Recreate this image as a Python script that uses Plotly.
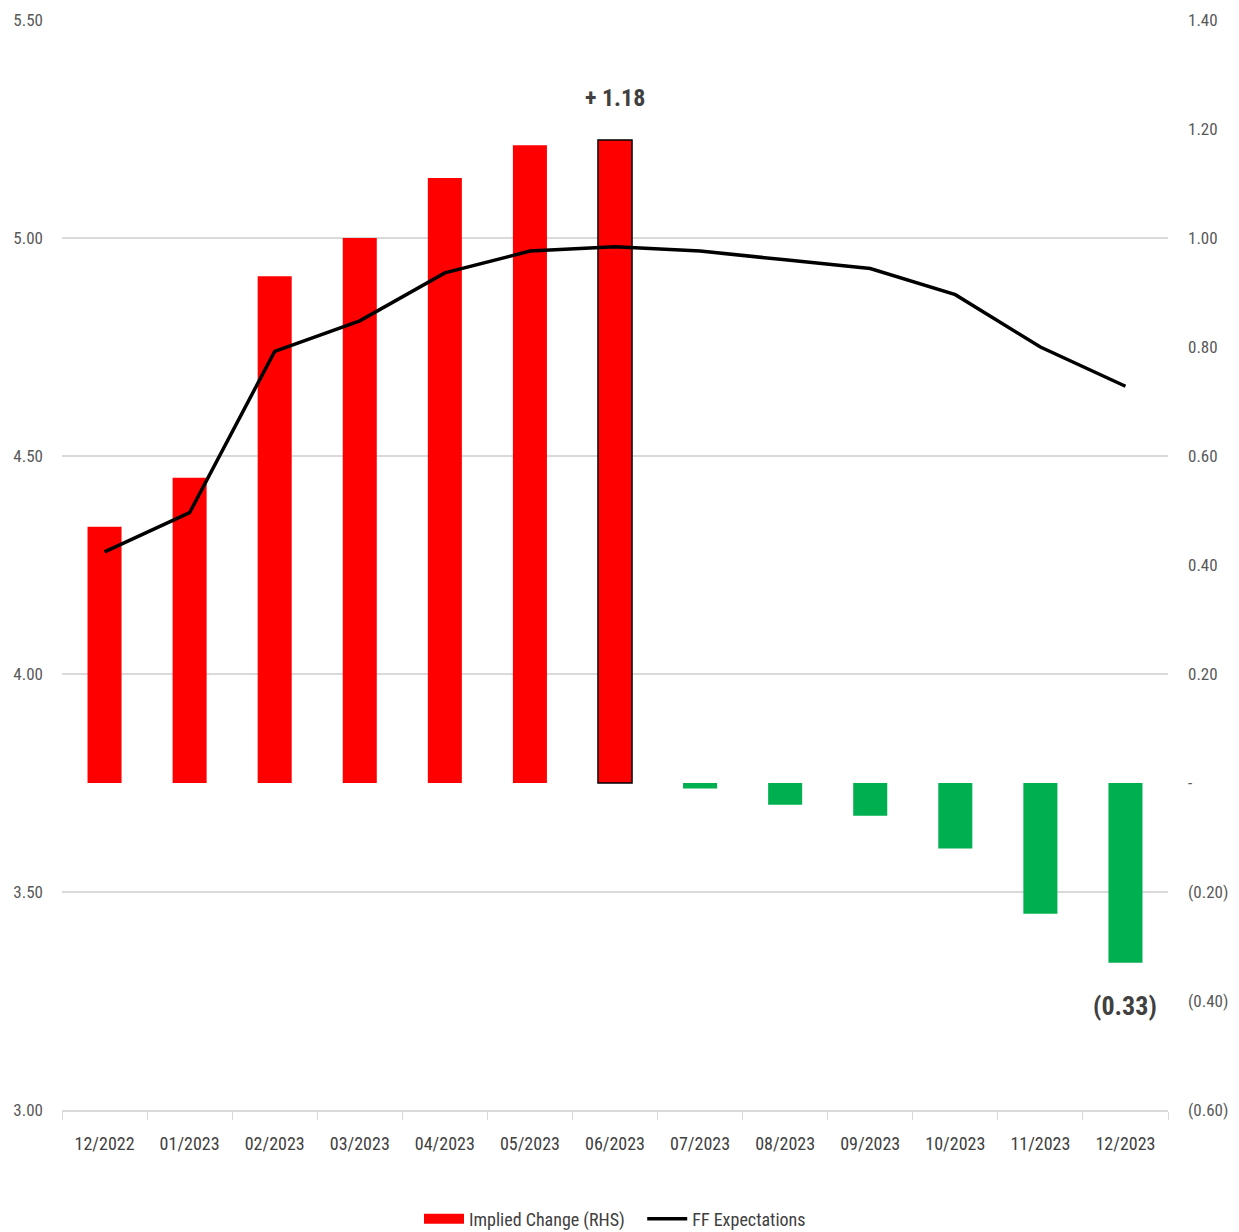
import plotly.graph_objects as go

months = ["12/2022", "01/2023", "02/2023", "03/2023", "04/2023", "05/2023", "06/2023",
          "07/2023", "08/2023", "09/2023", "10/2023", "11/2023", "12/2023"]
implied_change = [0.47, 0.56, 0.93, 1.00, 1.11, 1.17, 1.18, -0.01, -0.04, -0.06, -0.12, -0.24, -0.33]
ff_expectations = [4.28, 4.37, 4.74, 4.81, 4.92, 4.97, 4.98, 4.97, 4.95, 4.93, 4.87, 4.75, 4.66]

left_ticks = [3.00, 3.50, 4.00, 4.50, 5.00, 5.50]
right_ticks = [-0.60, -0.40, -0.20, 0.0, 0.20, 0.40, 0.60, 0.80, 1.00, 1.20, 1.40]
right_labels = ["(0.60)", "(0.40)", "(0.20)", "-", "0.20", "0.40", "0.60", "0.80", "1.00", "1.20", "1.40"]

FONT = "Liberation Sans Narrow, Roboto Condensed, Arial Narrow, Roboto, sans-serif"

bar_colors = ["#FF0000" if v >= 0 else "#00B050" for v in implied_change]
line_colors = ["#000000" if m == "06/2023" else c for m, c in zip(months, bar_colors)]
line_widths = [1.5 if m == "06/2023" else 0 for m in months]

fig = go.Figure()
# bars on y (right side), line on y2 (left side, overlaying) so the line is drawn on top
fig.add_trace(go.Bar(
    x=months, y=implied_change, name="Implied Change (RHS)", yaxis="y",
    marker=dict(color=bar_colors, line=dict(color=line_colors, width=line_widths)),
    width=0.4, showlegend=False,
))
# legend proxy: wide red rectangle
fig.add_trace(go.Scatter(x=[None], y=[None], name="Implied Change (RHS)   ", mode="lines",
                         line=dict(color="#FF0000", width=13), yaxis="y"))
fig.add_trace(go.Scatter(
    x=months, y=ff_expectations, name="FF Expectations", mode="lines", yaxis="y2",
    line=dict(color="#000000", width=3.5),
))

fig.add_annotation(x="06/2023", y=implied_change[6], yref="y", text="<b>+ 1.18</b>",
                   showarrow=False, yshift=42, font=dict(size=24, color="#404040", family=FONT))
fig.add_annotation(x="12/2023", y=implied_change[12], yref="y", text="<b>(0.33)</b>",
                   showarrow=False, yshift=-43, font=dict(size=26, color="#404040", family=FONT))

fig.update_layout(
    width=1231, height=1224,
    margin=dict(l=54, r=71, t=12, b=122, autoexpand=False),
    paper_bgcolor="white", plot_bgcolor="white",
    font=dict(family=FONT, size=16, color="#595959"),
    bargap=0.6,
    xaxis=dict(
        type="category", showline=True, linecolor="#D9D9D9", linewidth=1.5,
        ticks="outside", tickson="boundaries", ticklen=8, tickcolor="#D9D9D9",
        tickfont=dict(size=18, color="#404040"), showgrid=False, automargin=False,
        ticklabelstandoff=17,
    ),
    yaxis=dict(
        range=[-0.6, 1.4], tickvals=right_ticks, ticktext=right_labels,
        side="right", showgrid=False, zeroline=False, ticks="", automargin=False,
        tickfont=dict(size=17, color="#595959"), ticklabelstandoff=19,
    ),
    yaxis2=dict(
        range=[3.0, 5.5], tickvals=left_ticks, ticktext=[f"{v:.2f}" for v in left_ticks],
        overlaying="y", side="left", automargin=False,
        showgrid=True, gridcolor="#D9D9D9", gridwidth=1.5, zeroline=False,
        ticks="", tickfont=dict(size=17, color="#595959"), ticklabelstandoff=18,
    ),
    legend=dict(orientation="h", x=0.5, xanchor="center", y=-0.083, yanchor="top",
                font=dict(size=18, color="#404040"), traceorder="normal", itemwidth=40),
)

fig.write_html("out.html")
